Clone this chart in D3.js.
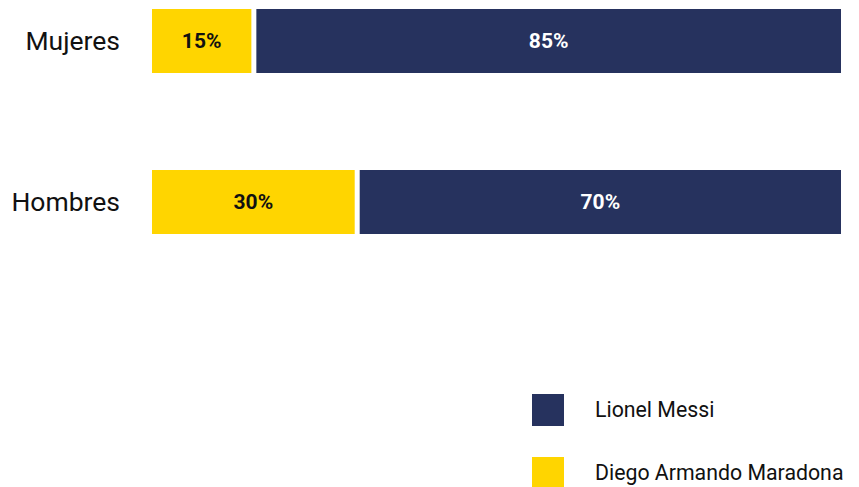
<!DOCTYPE html>
<html>
<head>
<meta charset="utf-8">
<script src="https://cdn.jsdelivr.net/npm/d3@7"></script>
<style>
  body { margin: 0; background: #fff; }
  svg { display: block; font-family: Roboto, sans-serif; }
</style>
</head>
<body>
<svg id="chart" width="859" height="487"></svg>
<script>
const categories = ['Mujeres', 'Hombres'];
const maradona = [15, 30];
const messi = [85, 70];
const seriesNames = ['Lionel Messi', 'Diego Armando Maradona'];
const colors = { 'Lionel Messi': '#26325e', 'Diego Armando Maradona': '#ffd500' };

const width = 859;
const height = 487;
const margin = { top: 9, left: 152, right: 18 };
const step = 161; // distance between bar rows
const bh = 64;    // bar height

const svg = d3.select('#chart');

const rows = categories.map((c, i) => ({ cat: c, m: maradona[i], l: messi[i] }));

const x = d3.scaleLinear().domain([0, 100]).range([margin.left, width - margin.right]);
const y = d3.scalePoint().domain(categories).range([margin.top, margin.top + step]);

const g = svg.append('g');

// Maradona (yellow) segments
g.selectAll('rect.mar')
  .data(rows)
  .join('rect')
  .attr('class', 'mar')
  .attr('x', x(0))
  .attr('y', (d) => y(d.cat))
  .attr('width', (d) => x(d.m) - x(0) - 4)
  .attr('height', bh)
  .attr('fill', colors['Diego Armando Maradona']);

// Messi (navy) segments
g.selectAll('rect.mes')
  .data(rows)
  .join('rect')
  .attr('class', 'mes')
  .attr('x', (d) => x(d.m) + 1)
  .attr('y', (d) => y(d.cat))
  .attr('width', (d) => x(d.m + d.l) - x(d.m) - 1)
  .attr('height', bh)
  .attr('fill', colors['Lionel Messi']);

// Value labels
g.selectAll('text.vm')
  .data(rows)
  .join('text')
  .attr('x', (d) => (x(0) + x(d.m) - 4) / 2)
  .attr('y', (d) => y(d.cat) + bh / 2)
  .attr('dy', '0.35em')
  .attr('text-anchor', 'middle')
  .attr('font-size', 21)
  .attr('font-weight', 'bold')
  .attr('fill', '#111')
  .text((d) => d.m + '%');

g.selectAll('text.vl')
  .data(rows)
  .join('text')
  .attr('x', (d) => (x(d.m) + 1 + x(100)) / 2)
  .attr('y', (d) => y(d.cat) + bh / 2)
  .attr('dy', '0.35em')
  .attr('text-anchor', 'middle')
  .attr('font-size', 21)
  .attr('font-weight', 'bold')
  .attr('fill', '#fff')
  .text((d) => d.l + '%');

// Category labels
g.selectAll('text.cat')
  .data(rows)
  .join('text')
  .attr('x', 120)
  .attr('y', (d) => y(d.cat) + bh / 2)
  .attr('dy', '0.35em')
  .attr('text-anchor', 'end')
  .attr('font-size', 26.5)
  .attr('fill', '#111')
  .text((d) => d.cat);

// Legend
const legend = svg.append('g').attr('transform', 'translate(532,394)');
const items = legend.selectAll('g')
  .data(seriesNames)
  .join('g')
  .attr('transform', (d, i) => `translate(0,${i * 63})`);
items.append('rect')
  .attr('width', 32)
  .attr('height', 32)
  .attr('fill', (d) => colors[d]);
items.append('text')
  .attr('x', 63)
  .attr('y', 16)
  .attr('dy', '0.35em')
  .attr('font-size', 21.3)
  .attr('fill', '#111')
  .text((d) => d);
</script>
</body>
</html>
